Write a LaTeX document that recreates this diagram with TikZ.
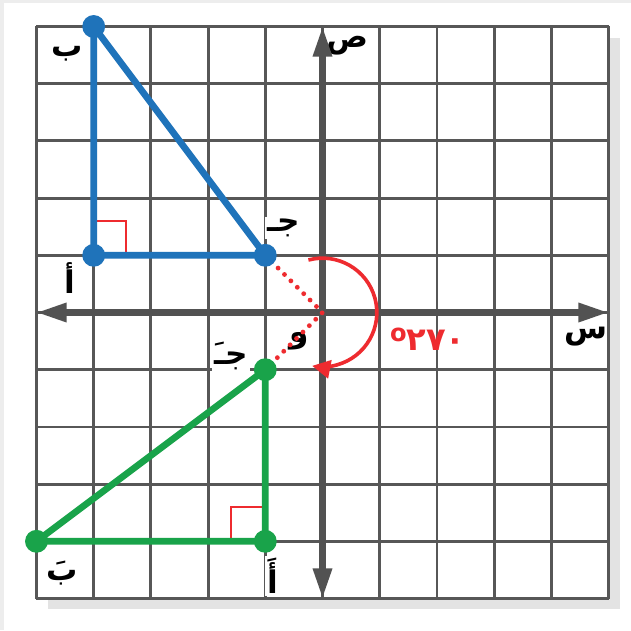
\documentclass[tikz,border=0pt]{standalone}
\usepackage{fontspec}
\newfontfamily\arabicfont[Script=Arabic]{DejaVu Sans}
\TeXXeTstate=1
\usetikzlibrary{arrows.meta}
\definecolor{gridgray}{HTML}{575757}
\definecolor{axisgray}{HTML}{525252}
\definecolor{triblue}{HTML}{1F73BA}
\definecolor{trigreen}{HTML}{19A34A}
\definecolor{markred}{HTML}{EE2B2F}
\begin{document}
\begin{tikzpicture}[
  gridline/.style={draw=gridgray, line width=1.4pt},
  axisline/.style={draw=axisgray, line width=3pt,
    {Triangle[length=15pt,width=9pt]}-{Triangle[length=15pt,width=9pt]}},
  lbl/.style={font=\arabicfont\bfseries\fontsize{15.5}{15.5}\selectfont,
    inner sep=1pt, text=black},
  wlbl/.style={lbl, fill=white},
  anglelbl/.style={font=\arabicfont\bfseries\fontsize{16}{16}\selectfont,
    text=markred, inner sep=1pt},
  bluetri/.style={draw=triblue, line width=3.3pt, line join=round},
  greentri/.style={draw=trigreen, line width=3.3pt, line join=round},
  rightmark/.style={draw=markred, line width=1.1pt},
  dotline/.style={draw=markred, line width=2.4pt, line cap=round,
    dash pattern=on 0pt off 4.5pt},
  turnarc/.style={draw=markred, line width=1.8pt,
    -{Triangle[length=9pt,width=9pt]}},
]
\useasboundingbox (-5.638,-5.551) rectangle (5.393,5.463);
% page frame and shadow
\fill[black!7] (-5.638,-5.551) rectangle (-5.57,5.463);
\fill[black!7] (-5.638,5.41) rectangle (5.393,5.463);
\fill[black!11] (-4.8,-5.18) rectangle (5.2,4.8);
\fill[white] (-5,-5) rectangle (5,5);
% grid
\draw[gridline] (-5,-5) grid (5,5);
% points
\coordinate (O) at (0,0);
\coordinate (A) at (-4,1);
\coordinate (B) at (-4,5);
\coordinate (C) at (-1,1);
\coordinate (A2) at (-1,-4);
\coordinate (B2) at (-5,-4);
\coordinate (C2) at (-1,-1);
% labels
\node[wlbl] (lB) at (-4.47,4.52) {\beginR ب\endR};
\node[wlbl] (lA) at (-4.41,0.60) {\beginR أ\endR};
\node[wlbl] (lC) at (-0.68,1.48) {\beginR جـ\endR};
\node[lbl] (lY) at (0.44,4.66) {\beginR ص\endR};
\node[lbl] (lX) at (4.6,-0.43) {\beginR س\endR};
\node[lbl] (lO) at (-0.40,-0.50) {\beginR و\endR};
\node[wlbl] (lC2) at (-1.60,-0.76) {\beginR جـَ\endR};
\node[wlbl] (lB2) at (-4.55,-4.55) {\beginR بَ\endR};
\node[wlbl] (lA2) at (-0.87,-4.60) {\beginR أَ\endR};
\node[anglelbl] (lang) at (1.84,-0.47)
  {\raisebox{0.55ex}{\fontsize{12}{12}\selectfont o}٢٧٠};
% axes
\coordinate (xl) at (-5,0);
\coordinate (xr) at (5,0);
\coordinate (yb) at (0,-5);
\coordinate (yt) at (0,5);
\draw[axisline] (xl) -- (xr);
\draw[axisline] (yb) -- (yt);
% right-angle marks
\draw[rightmark] (-4,1.6) -- (-3.43,1.6) -- (-3.43,1);
\draw[rightmark] (-1.6,-4) -- (-1.6,-3.4) -- (-1,-3.4);
% rotation guide
\draw[dotline] (C) -- (O) -- (C2);
\draw[turnarc] ([shift={(105:0.95)}]O) arc[start angle=105, end angle=-101, radius=0.95];
% triangles
\draw[bluetri] (A) -- (B) -- (C) -- cycle;
\draw[greentri] (A2) -- (B2) -- (C2) -- cycle;
\foreach \p in {A,B,C} \fill[triblue] (\p) circle (0.2);
\foreach \p in {A2,B2,C2} \fill[trigreen] (\p) circle (0.2);
\end{tikzpicture}
\end{document}
